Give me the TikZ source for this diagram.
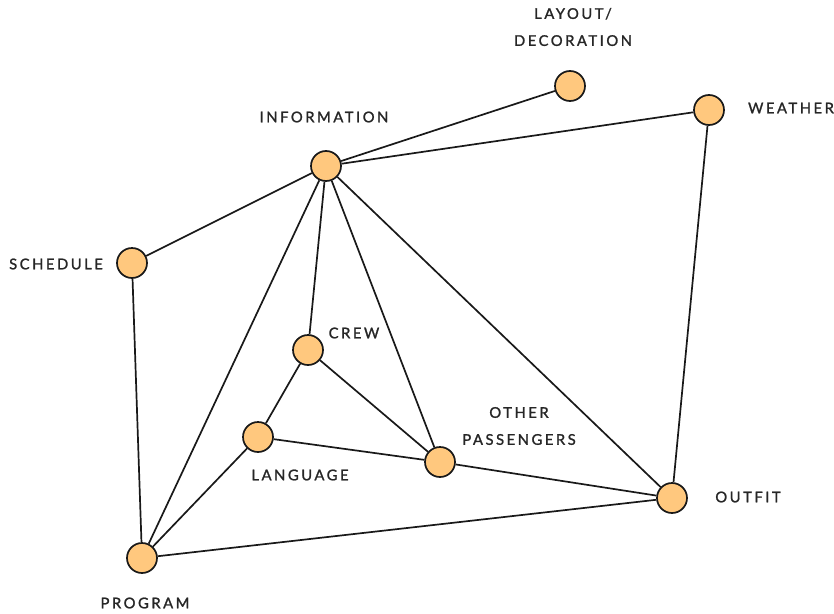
\documentclass[tikz,border=0pt]{standalone}
\usepackage{fontspec}
\setmainfont{Lato}[LetterSpace=17,FakeBold=1.4]
\begin{document}
\begin{tikzpicture}[x=1pt,y=-1pt,
  topic/.style={circle,draw=black!90,line width=1.7pt,fill=peach,minimum size=30pt,inner sep=0pt},
  tag/.style={font=\fontsize{14.8}{27}\selectfont,text=black!85,inner sep=0pt,align=center},
  link/.style={line width=1.7pt,draw=black!90}]
\definecolor{peach}{RGB}{255,200,126}
\useasboundingbox (0,0) rectangle (834,613);
% topics
\node[topic] (lay) at (570,86) {};
\node[topic] (wea) at (709,110) {};
\node[topic] (inf) at (326,166) {};
\node[topic] (sch) at (132,263) {};
\node[topic] (cre) at (308,350) {};
\node[topic] (lan) at (258,437) {};
\node[topic] (oth) at (440,462) {};
\node[topic] (out) at (672,498) {};
\node[topic] (pro) at (142,558) {};
% labels
\node[tag] (tlay) at (573,27) {LAYOUT/\\DECORATION};
\node[tag] (tinf) at (324,117) {INFORMATION};
\node[tag] (twea) at (791,108) {WEATHER};
\node[tag] (tsch) at (56,264) {SCHEDULE};
\node[tag] (tcre) at (354,333) {CREW};
\node[tag] (toth) at (519,426) {OTHER\\PASSENGERS};
\node[tag] (tlan) at (300,475) {LANGUAGE};
\node[tag] (tout) at (748,497) {OUTFIT};
\node[tag] (tpro) at (145,603) {PROGRAM};
% connections
\draw[link] (inf) -- (lay);
\draw[link] (inf) -- (wea);
\draw[link] (wea) -- (out);
\draw[link] (inf) -- (sch);
\draw[link] (sch) -- (pro);
\draw[link] (inf) -- (pro);
\draw[link] (inf) -- (cre);
\draw[link] (inf) -- (oth);
\draw[link] (inf) -- (out);
\draw[link] (cre) -- (lan);
\draw[link] (cre) -- (oth);
\draw[link] (lan) -- (oth);
\draw[link] (lan) -- (pro);
\draw[link] (oth) -- (out);
\draw[link] (pro) -- (out);
\end{tikzpicture}
\end{document}
